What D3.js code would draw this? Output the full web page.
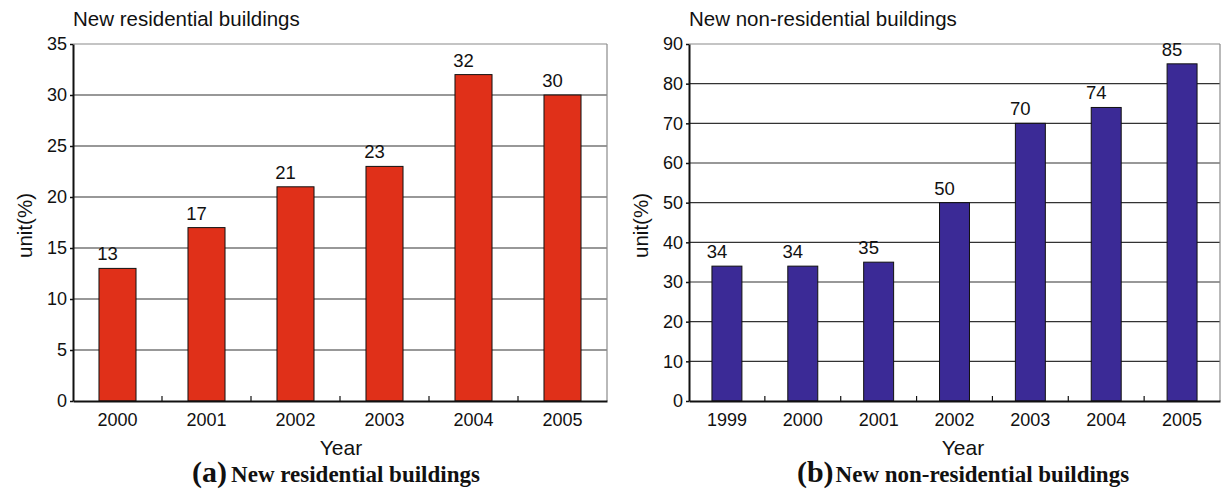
<!DOCTYPE html>
<html>
<head>
<meta charset="utf-8">
<script src="https://cdn.jsdelivr.net/npm/d3@7"></script>
<style>
  html, body { margin: 0; padding: 0; background: #fff; }
  svg { display: block; }
</style>
</head>
<body>
<svg id="chart" width="1225" height="490"></svg>
<script>
// Residential buildings share by year
const residentialYears = ["2000", "2001", "2002", "2003", "2004", "2005"];
const residentialValues = [13, 17, 21, 23, 32, 30];
const residentialTicks = [0, 5, 10, 15, 20, 25, 30, 35];

// Non-residential buildings share by year
const nonResidentialYears = ["1999", "2000", "2001", "2002", "2003", "2004", "2005"];
const nonResidentialValues = [34, 34, 35, 50, 70, 74, 85];
const nonResidentialTicks = [0, 10, 20, 30, 40, 50, 60, 70, 80, 90];

const svg = d3.select("#chart");
const sans = "'Liberation Sans', Arial, Helvetica, sans-serif";
const serif = "'Liberation Serif', 'Times New Roman', serif";

function drawPanel(opt) {
  const g = svg.append("g");
  const x = d3.scaleBand()
    .domain(opt.categories)
    .range([opt.left, opt.right])
    .paddingInner(opt.barPad)
    .paddingOuter(opt.barPad / 2);
  const y = d3.scaleLinear()
    .domain([0, opt.ticks[opt.ticks.length - 1]])
    .range([opt.bottom, opt.top]);

  // horizontal grid lines
  g.append("g").selectAll("line")
    .data(opt.ticks.slice(1))
    .join("line")
    .attr("x1", opt.left).attr("x2", opt.right)
    .attr("y1", d => y(d)).attr("y2", d => y(d))
    .attr("stroke", d => d === opt.ticks[opt.ticks.length - 1] ? "#8a8a8a" : "#333")
    .attr("stroke-width", 1.1);

  // right border
  g.append("line")
    .attr("x1", opt.right).attr("x2", opt.right)
    .attr("y1", opt.top).attr("y2", opt.bottom)
    .attr("stroke", "#8a8a8a").attr("stroke-width", 1.2);

  // bars
  g.append("g").selectAll("rect")
    .data(opt.values)
    .join("rect")
    .attr("x", (d, i) => x(opt.categories[i]))
    .attr("width", x.bandwidth())
    .attr("y", d => y(d))
    .attr("height", d => y(0) - y(d))
    .attr("fill", opt.color)
    .attr("stroke", "#111")
    .attr("stroke-width", 1);

  // value labels
  g.append("g").selectAll("text")
    .data(opt.values)
    .join("text")
    .attr("x", (d, i) => x(opt.categories[i]) + x.bandwidth() / 2 - 10)
    .attr("y", d => y(d) - 8)
    .attr("text-anchor", "middle")
    .attr("font-family", sans)
    .attr("font-size", 18.5)
    .attr("fill", "#111")
    .text(d => d);

  // y axis
  const yAxis = g.append("g")
    .attr("transform", `translate(${opt.left},0)`)
    .call(d3.axisLeft(y).tickValues(opt.ticks).tickSize(3).tickPadding(3).tickSizeOuter(0));
  yAxis.select(".domain").attr("stroke", "#111").attr("stroke-width", 2);
  yAxis.selectAll(".tick line").attr("stroke", "#111").attr("stroke-width", 1.5);
  yAxis.selectAll(".tick text")
    .attr("font-family", sans).attr("font-size", 18).attr("fill", "#111");

  // x axis with inner ticks at category boundaries
  const xAxis = g.append("g")
    .attr("transform", `translate(0,${opt.bottom})`)
    .call(d3.axisBottom(x).tickSize(0).tickPadding(12).tickSizeOuter(0));
  xAxis.select(".domain").attr("stroke", "#111").attr("stroke-width", 2);
  xAxis.selectAll(".tick text")
    .attr("font-family", sans).attr("font-size", 18).attr("fill", "#111");
  g.append("g").selectAll("line")
    .data(opt.categories.slice(1))
    .join("line")
    .attr("x1", d => x(d) - x.step() * x.paddingInner() / 2)
    .attr("x2", d => x(d) - x.step() * x.paddingInner() / 2)
    .attr("y1", opt.bottom).attr("y2", opt.bottom - 5)
    .attr("stroke", "#111").attr("stroke-width", 1.2);

  // titles
  g.append("text")
    .attr("x", opt.left).attr("y", 26)
    .attr("font-family", sans).attr("font-size", 20.5).attr("fill", "#111")
    .text(opt.title);
  g.append("text")
    .attr("transform", `translate(${opt.left - 41},${(opt.top + opt.bottom) / 2 + 3}) rotate(-90)`)
    .attr("text-anchor", "middle")
    .attr("font-family", sans).attr("font-size", 20.5).attr("fill", "#111")
    .text("unit(%)");
  g.append("text")
    .attr("x", opt.yearX).attr("y", 455)
    .attr("text-anchor", "middle")
    .attr("font-family", sans).attr("font-size", 21).attr("fill", "#111")
    .text("Year");

  const cap = g.append("text")
    .attr("x", opt.captionX).attr("y", 482)
    .attr("text-anchor", "middle")
    .attr("font-family", serif).attr("font-weight", "bold").attr("fill", "#111");
  cap.append("tspan").attr("font-size", 30).text(opt.captionTag);
  cap.append("tspan").attr("font-size", 23).attr("dx", opt.captionGap).text(opt.caption);
}

drawPanel({
  categories: residentialYears,
  values: residentialValues,
  ticks: residentialTicks,
  left: 73, right: 607, top: 44, bottom: 401,
  barPad: 0.584,
  color: "#e03019",
  title: "New residential buildings",
  yearX: 341,
  captionX: 336,
  captionTag: "(a)",
  captionGap: 4,
  caption: "New residential buildings"
});

drawPanel({
  categories: nonResidentialYears,
  values: nonResidentialValues,
  ticks: nonResidentialTicks,
  left: 689, right: 1220, top: 44, bottom: 401,
  barPad: 0.605,
  color: "#3b2a96",
  title: "New non-residential buildings",
  yearX: 963,
  captionX: 963,
  captionTag: "(b)",
  captionGap: 2,
  caption: "New non-residential buildings"
});
</script>
</body>
</html>
